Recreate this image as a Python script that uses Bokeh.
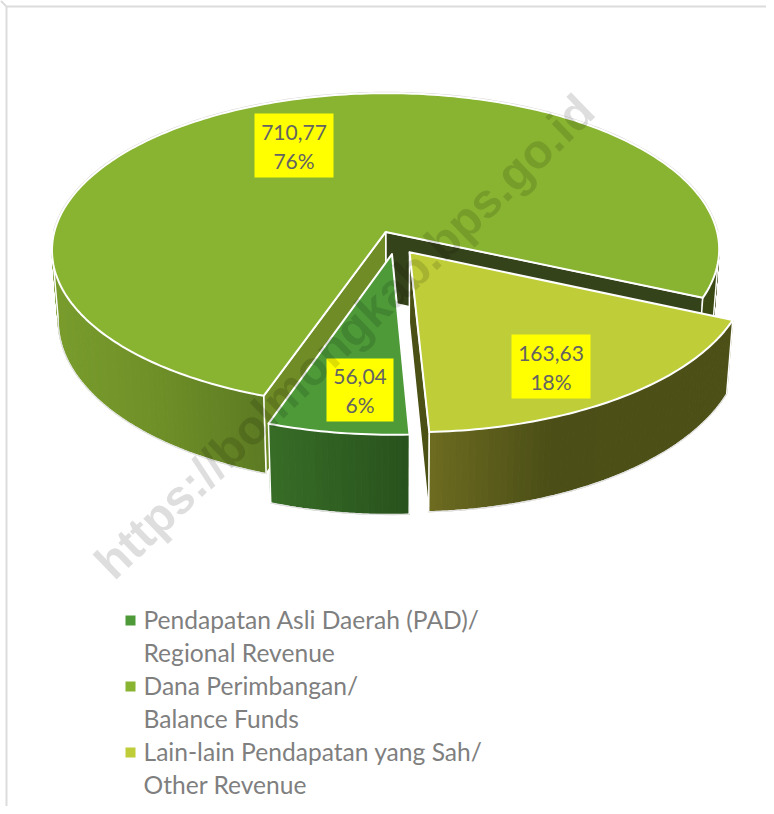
import math
from bokeh.plotting import figure
from bokeh.embed import file_html
from bokeh.resources import INLINE
from bokeh.models import Range1d
from bokeh.core.properties import value

# ---- data -------------------------------------------------------------
categories = ["Pendapatan Asli Daerah (PAD)/\nRegional Revenue",
              "Dana Perimbangan/\nBalance Funds",
              "Lain-lain Pendapatan yang Sah/\nOther Revenue"]
values = [56.04, 710.77, 163.63]
top_colors = ["#4E9A39", "#88B431", "#BFCE38"]
watermark = "https://bolmongkab.bps.go.id"

# ---- projection of the tilted pie --------------------------------------
FIRST_ANGLE = 177.3
EXPLODE = 0.074
CX, CY, SX, SY, K, H, F = 395.0, 242.0, 334.0, 157.0, 0.115, 70.0, 0.982
total = sum(values)


def hex2rgb(c):
    return tuple(int(c[i:i + 2], 16) for i in (1, 3, 5))


def ramp(stops, x):
    if x <= stops[0][0]:
        return stops[0][1]
    for (x0, c0), (x1, c1) in zip(stops, stops[1:]):
        if x <= x1:
            t = (x - x0) / (x1 - x0)
            a, b = hex2rgb(c0), hex2rgb(c1)
            return "#%02x%02x%02x" % tuple(round(a[i] + (b[i] - a[i]) * t) for i in range(3))
    return stops[-1][1]


def proj(X, Y, low=False):
    d = 1 - K * Y
    if low:
        return CX + F * SX * X / d, CY + SY * Y / d + H / d
    return CX + SX * X / d, CY + SY * Y / d


def rim(c, a, low=False):
    r = math.radians(a)
    return proj(c[0] + math.sin(r), c[1] - math.cos(r), low)


def arc(a0, a1, step=1.0):
    n = max(2, int(abs(a1 - a0) / step))
    return [a0 + (a1 - a0) * i / n for i in range(n + 1)]


slices = []
a = FIRST_ANGLE
for v in values:
    span = v / total * 360
    mid = math.radians(a + span / 2)
    slices.append(dict(a0=a, a1=a + span, c=(EXPLODE * math.sin(mid), -EXPLODE * math.cos(mid))))
    a += span
green, main, yellow = slices

p = figure(width=766, height=806, x_range=Range1d(0, 766), y_range=Range1d(806, 0),
           toolbar_location=None, output_backend="svg", min_border=0,
           background_fill_color="#FFFFFF", border_fill_color="#FFFFFF", outline_line_color=None)
p.axis.visible = False
p.grid.visible = False


def poly(pts, fill, line="#FFFFFF", lw=1.5):
    p.patch([q[0] for q in pts], [q[1] for q in pts], fill_color=fill,
            line_color=line, line_width=lw, line_join="round")


def polyline(pts, color, lw=1.0):
    p.line([q[0] for q in pts], [q[1] for q in pts], line_color=color, line_width=lw)


def cut_wall(s, angle, fill):
    c = s["c"]
    poly([proj(c[0], c[1]), proj(c[0], c[1], True), rim(c, angle, True), rim(c, angle)], fill)


def outer_wall(s, a0, a1, stops, corners=(0, -1)):
    c = s["c"]
    angs = arc(a0, a1)
    xs, ys, cols = [], [], []
    for u, w in zip(angs, angs[1:]):
        q = [rim(c, u), rim(c, w), rim(c, w, True), rim(c, u, True)]
        xs.append([t[0] for t in q])
        ys.append([t[1] for t in q])
        cols.append(ramp(stops, (q[0][0] + q[1][0]) / 2))
    p.patches(xs, ys, fill_color=cols, line_color=cols, line_width=1)
    top = [rim(c, t) for t in angs]
    bot = [rim(c, t, True) for t in angs]
    polyline(bot, "#FFFFFF", 1.5)
    polyline(bot, "#D2D2D2", 0.8)
    for e in corners:
        polyline([top[e], bot[e]], "#FFFFFF", 1.5)


def top_face(s, fill):
    c = s["c"]
    pts = [proj(c[0], c[1])] + [rim(c, t) for t in arc(s["a0"], s["a1"])]
    poly(pts, fill, "#FFFFFF", 2)


# main slice -------------------------------------------------------------
polyline([rim(main["c"], t) for t in arc(270, 450)], "#D4D4D4", 2.8)
cut_wall(main, main["a1"], "#35431A")
cut_wall(main, main["a0"], "#6F8C26")
outer_wall(main, main["a0"], 264,
           [(58, "#789B2C"), (150, "#6F9028"), (265, "#5C7A22")])
outer_wall(main, 456, main["a1"], [(600, "#3A4814"), (720, "#3A4814")])
top_face(main, top_colors[1])

# yellow slice -----------------------------------------------------------
cut_wall(yellow, yellow["a1"], "#4B5014")
outer_wall(yellow, yellow["a0"], yellow["a1"],
           [(431, "#6C6B20"), (550, "#4B4E16"), (735, "#4D5016")])
top_face(yellow, top_colors[2])

# green slice ------------------------------------------------------------
outer_wall(green, green["a0"], green["a1"], [(270, "#376C27"), (411, "#28521C")])
top_face(green, top_colors[0])

# value labels ------------------------------------------------------------
label_boxes = [(326, 393, 358, 421), (254, 333, 113, 177), (511, 590, 334, 398)]
for v, (l, r, t, b) in zip(values, label_boxes):
    p.quad(left=[l], right=[r], top=[t], bottom=[b], fill_color="#FFFF00", line_color=None)
    m = (l + r) / 2
    p.text([m, m], [(t + b) / 2 - 13.5, (t + b) / 2 + 14.5],
           text=[f"{v:.2f}".replace(".", ","), f"{v / total * 100:.0f}%"],
           text_font=value("Lato"), text_font_size="21px", text_color="#636363",
           text_align="center", text_baseline="middle")

# legend ------------------------------------------------------------------
row = 33
y0 = 619
for i, (cat, col) in enumerate(zip(categories, top_colors)):
    p.scatter([130], [y0 + i * 2 * row + 1], marker="square", size=10, fill_color=col, line_color=None)
    for j, line in enumerate(cat.split("\n")):
        p.text([143], [y0 + (2 * i + j) * row], text=[line], text_font=value("Lato"),
               text_font_size="24.6px", text_color="#7F7F7F", text_align="left", text_baseline="middle")

# frame -------------------------------------------------------------------
p.line([6, 6, None, 6, 766], [806, 6, None, 6, 6], line_color="#DCDCDC", line_width=2)

# watermark ---------------------------------------------------------------
p.text([344], [336], text=[watermark], angle=[44], angle_units="deg",
       text_font=value("Liberation Sans"), text_font_style="bold", text_font_size="48px",
       text_color="#000000", text_alpha=0.13, text_align="center", text_baseline="middle")

open("out.html", "w").write(file_html(p, INLINE))
